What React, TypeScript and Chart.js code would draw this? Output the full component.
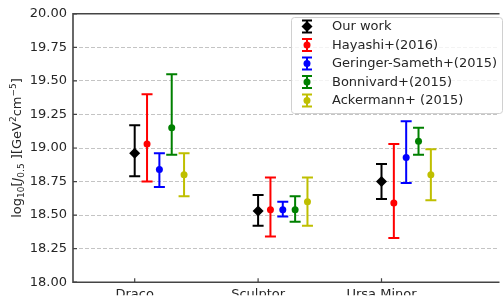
import React, { useEffect, useRef } from "react";
import { Chart, registerables } from "chart.js";

Chart.register(...registerables);

const categories = ["Draco", "Sculptor", "Ursa Minor"];
const seriesNames = ["Our work", "Hayashi+(2016)", "Geringer-Sameth+(2015)", "Bonnivard+(2015)", "Ackermann+ (2015)"];

const ourWork = [18.96, 18.53, 18.75];
const ourWorkLo = [18.79, 18.42, 18.62];
const ourWorkHi = [19.17, 18.65, 18.88];

const hayashi = [19.03, 18.54, 18.59];
const hayashiLo = [18.75, 18.34, 18.33];
const hayashiHi = [19.4, 18.78, 19.03];

const geringer = [18.84, 18.54, 18.93];
const geringerLo = [18.71, 18.49, 18.74];
const geringerHi = [18.96, 18.6, 19.2];

const bonnivard = [19.15, 18.54, 19.05];
const bonnivardLo = [18.95, 18.45, 18.95];
const bonnivardHi = [19.55, 18.64, 19.15];

const ackermann = [18.8, 18.6, 18.8];
const ackermannLo = [18.64, 18.42, 18.61];
const ackermannHi = [18.96, 18.78, 18.99];

const yTicks = [18.0, 18.25, 18.5, 18.75, 19.0, 19.25, 19.5, 19.75, 20.0];

const seriesValues = [ourWork, hayashi, geringer, bonnivard, ackermann];
const seriesLo = [ourWorkLo, hayashiLo, geringerLo, bonnivardLo, ackermannLo];
const seriesHi = [ourWorkHi, hayashiHi, geringerHi, bonnivardHi, ackermannHi];
const seriesColors = ["#000000", "#ff0000", "#0000ff", "#008000", "#bfbf00"];
const seriesOffset = [0, 0.1, 0.2, 0.3, 0.4];

const FONT = "'DejaVu Sans', sans-serif";
const W = 503;
const H = 296;
const LEFT = 73;
const TOP = 11;
const BOTTOM = 283;
const PX_PER_CAT = 125;

const drawPlugin = {
  id: "customDraw",
  beforeDatasetsDraw(chart: any) {
    const ctx = chart.ctx;
    const xs = chart.scales.x;
    const ys = chart.scales.y;
    ctx.save();
    seriesValues.forEach((vals, s) => {
      ctx.strokeStyle = seriesColors[s];
      ctx.lineWidth = 2;
      vals.forEach((_, i) => {
        const x = xs.getPixelForValue(i + seriesOffset[s]);
        const y1 = ys.getPixelForValue(seriesLo[s][i]);
        const y2 = ys.getPixelForValue(seriesHi[s][i]);
        ctx.beginPath();
        ctx.moveTo(x, y1);
        ctx.lineTo(x, y2);
        ctx.moveTo(x - 5.5, y1);
        ctx.lineTo(x + 5.5, y1);
        ctx.moveTo(x - 5.5, y2);
        ctx.lineTo(x + 5.5, y2);
        ctx.stroke();
      });
    });
    ctx.restore();
  },
  afterDraw(chart: any) {
    const ctx = chart.ctx;
    const a = chart.chartArea;
    const xs = chart.scales.x;
    const ys = chart.scales.y;
    ctx.save();
    // inward ticks
    ctx.strokeStyle = "#444";
    ctx.lineWidth = 1.2;
    ctx.beginPath();
    yTicks.forEach((v) => {
      const y = ys.getPixelForValue(v);
      ctx.moveTo(a.left, y);
      ctx.lineTo(a.left + 4, y);
    });
    categories.forEach((_, i) => {
      const x = xs.getPixelForValue(i);
      ctx.moveTo(x, a.bottom);
      ctx.lineTo(x, a.bottom - 4);
    });
    ctx.stroke();
    // spines
    ctx.strokeStyle = "#444";
    ctx.lineWidth = 1.6;
    ctx.beginPath();
    ctx.moveTo(a.right + 2, a.top);
    ctx.lineTo(a.left, a.top);
    ctx.lineTo(a.left, a.bottom);
    ctx.lineTo(a.right + 2, a.bottom);
    ctx.stroke();

    // y title with sub/superscripts
    const fs = 13;
    const parts: [string, string][] = [
      ["log", "n"], ["10", "sub"], ["[", "n"], ["J", "i"], ["0.5", "sub"],
      [" ][GeV", "n"], ["2", "sup"], ["cm", "n"], ["\u22125", "sup"], ["]", "n"],
    ];
    const fontFor = (k: string) =>
      k === "sub" || k === "sup" ? `${Math.round(fs * 0.7)}px ${FONT}` : k === "i" ? `italic ${fs}px ${FONT}` : `${fs}px ${FONT}`;
    let total = 0;
    parts.forEach(([t, k]) => {
      ctx.font = fontFor(k);
      total += ctx.measureText(t).width;
    });
    ctx.translate(21, (a.top + a.bottom) / 2);
    ctx.rotate(-Math.PI / 2);
    ctx.fillStyle = "#262626";
    ctx.textBaseline = "alphabetic";
    ctx.textAlign = "left";
    let cx = -total / 2;
    parts.forEach(([t, k]) => {
      ctx.font = fontFor(k);
      const dy = k === "sub" ? 3 : k === "sup" ? -5.5 : 0;
      ctx.fillText(t, cx, dy);
      cx += ctx.measureText(t).width;
    });
    ctx.setTransform(1, 0, 0, 1, 0, 0);

    // legend
    const lx = 291, ly = 17, lw = 211, lh = 96;
    ctx.fillStyle = "rgba(255,255,255,0.8)";
    ctx.strokeStyle = "#d0d0d0";
    ctx.lineWidth = 1;
    ctx.beginPath();
    (ctx as any).roundRect(lx + 0.5, ly + 0.5, lw, lh, 3);
    ctx.fill();
    ctx.stroke();
    seriesNames.forEach((name, s) => {
      const y = 26.5 + s * 18.5;
      const x = 307;
      ctx.strokeStyle = seriesColors[s];
      ctx.fillStyle = seriesColors[s];
      ctx.lineWidth = 2;
      ctx.beginPath();
      ctx.moveTo(x, y - 6);
      ctx.lineTo(x, y + 6);
      ctx.moveTo(x - 5, y - 6);
      ctx.lineTo(x + 5, y - 6);
      ctx.moveTo(x - 5, y + 6);
      ctx.lineTo(x + 5, y + 6);
      ctx.stroke();
      ctx.beginPath();
      if (s === 0) {
        ctx.moveTo(x - 5.5, y);
        ctx.lineTo(x, y - 5.5);
        ctx.lineTo(x + 5.5, y);
        ctx.lineTo(x, y + 5.5);
        ctx.closePath();
      } else {
        ctx.arc(x, y, 3.5, 0, Math.PI * 2);
      }
      ctx.fill();
      ctx.fillStyle = "#262626";
      ctx.font = `13px ${FONT}`;
      ctx.textBaseline = "middle";
      ctx.fillText(name, 332, y + 0.5);
    });
    ctx.restore();
  },
};

export default function App() {
  const ref = useRef<HTMLCanvasElement>(null);
  useEffect(() => {
    if (!ref.current) return;
    const xMax = -0.5 + (W - LEFT) / PX_PER_CAT;
    const datasets = seriesNames.map((name, s) => ({
      label: name,
      data: seriesValues[s].map((v, i) => ({ x: i + seriesOffset[s], y: v })),
      backgroundColor: seriesColors[s],
      borderColor: seriesColors[s],
      pointStyle: s === 0 ? "rectRot" : "circle",
      pointRadius: s === 0 ? 5.5 : 3.5,
      pointBorderWidth: 0,
      showLine: false,
    }));
    const chart = new Chart(ref.current, {
      type: "scatter",
      data: { datasets: datasets as any },
      plugins: [drawPlugin],
      options: {
        responsive: false,
        animation: false,
        layout: { padding: { top: TOP, left: 0, right: 0, bottom: 0 } },
        plugins: { legend: { display: false }, tooltip: { enabled: false } },
        scales: {
          x: {
            type: "linear",
            min: -0.5,
            max: xMax,
            afterBuildTicks: (s: any) => {
              s.ticks = categories.map((_, i) => ({ value: i }));
            },
            afterFit: (s: any) => {
              s.height = H - BOTTOM;
            },
            grid: { display: false, drawTicks: false },
            border: { display: false },
            ticks: {
              padding: 5,
              autoSkip: false,
              maxRotation: 0,
              color: "#262626",
              font: { family: FONT, size: 13 },
              callback: (v: any) => categories[Math.round(v)] ?? "",
            },
          },
          y: {
            min: 18,
            max: 20,
            afterBuildTicks: (s: any) => {
              s.ticks = yTicks.map((v) => ({ value: v }));
            },
            afterFit: (s: any) => {
              s.width = LEFT;
            },
            grid: {
              drawTicks: false,
              lineWidth: 1,
              color: (c: any) =>
                c.tick && (c.tick.value === 18 || c.tick.value === 20) ? "rgba(0,0,0,0)" : "#c4c4c4",
            },
            border: { display: false, dash: [4, 2] },
            ticks: {
              padding: 6,
              color: "#262626",
              font: { family: FONT, size: 13 },
              callback: (v: any) => Number(v).toFixed(2),
            },
          },
        },
      },
    });
    return () => chart.destroy();
  }, []);
  return (
    <canvas
      ref={ref}
      width={W}
      height={H}
      style={{ position: "fixed", left: 0, top: 0, width: W, height: H, display: "block" }}
    />
  );
}
